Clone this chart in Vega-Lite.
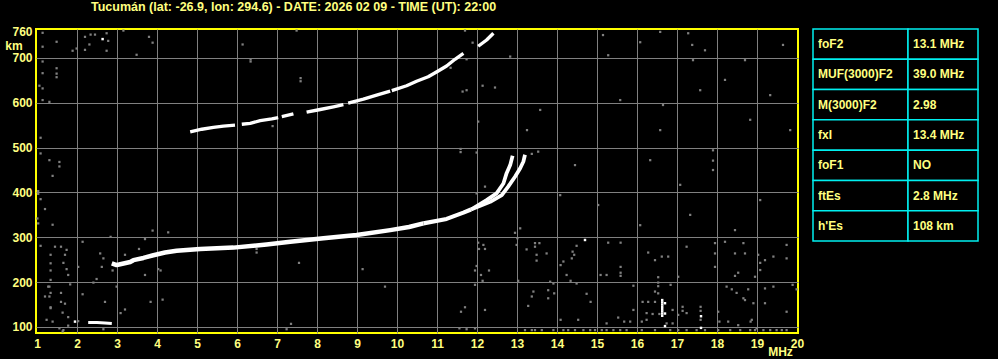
{
  "$schema": "https://vega.github.io/schema/vega-lite/v6.json",
  "background": "black",
  "padding": {"left": 3, "top": 1, "right": 30, "bottom": 8},
  "config": {"view": {"stroke": null}, "font": "Liberation Sans"},
  "title": {"text": "Tucumán (lat: -26.9, lon: 294.6) - DATE: 2026 02 09 - TIME (UT): 22:00", "color": "#ffff80", "fontSize": 12.5, "fontWeight": "bold", "font": "Liberation Sans", "anchor": "start", "frame": "group", "dx": 55, "offset": 10.5},
  "datasets": {
    "noise": [
      {"f":1.14,"h":756},{"f":1.14,"h":725},{"f":1.49,"h":736},{"f":1.89,"h":716},{"f":1.99,"h":721},{"f":2.2,"h":747},{"f":2.2,"h":718},{"f":2.31,"h":730},{"f":2.34,"h":752},{"f":2.45,"h":752},{"f":2.74,"h":755},{"f":2.78,"h":738},{"f":2.74,"h":716},{"f":3.16,"h":761},{"f":3.49,"h":707},{"f":3.8,"h":747},{"f":3.89,"h":734},{"f":6.14,"h":730},{"f":7.49,"h":761},{"f":11.7,"h":761},{"f":11.89,"h":734},{"f":12.83,"h":703},
      {"f":1.14,"h":692},{"f":1.14,"h":666},{"f":1.49,"h":677},{"f":1.49,"h":657},{"f":1.49,"h":665},{"f":1.06,"h":638},{"f":1.14,"h":632},{"f":1.14,"h":606},{"f":1.31,"h":602},{"f":1.09,"h":522},{"f":1.09,"h":487},{"f":1.31,"h":472},{"f":1.56,"h":458},{"f":1.56,"h":468},{"f":1.39,"h":437},{"f":1.03,"h":397},{"f":1.03,"h":403},{"f":1.09,"h":385},{"f":1.2,"h":363},{"f":1.01,"h":342},{"f":1.03,"h":331},{"f":1.39,"h":328},{"f":1.09,"h":281},{"f":1.45,"h":279},{"f":1.34,"h":261},{"f":1.34,"h":242},{"f":1.34,"h":226},{"f":1.34,"h":205},{"f":1.31,"h":190},{"f":1.2,"h":168},{"f":1.31,"h":168},{"f":1.34,"h":144},{"f":1.24,"h":116},{"f":1.39,"h":112},
      {"f":1.6,"h":279},{"f":1.74,"h":272},{"f":2.14,"h":290},{"f":1.7,"h":261},{"f":1.66,"h":243},{"f":1.74,"h":229},{"f":1.78,"h":216},{"f":2.03,"h":234},{"f":1.83,"h":195},{"f":1.28,"h":190},{"f":1.34,"h":176},{"f":1.6,"h":176},{"f":1.6,"h":156},{"f":1.7,"h":152},{"f":2.14,"h":173},{"f":1.34,"h":142},{"f":1.64,"h":132},{"f":1.78,"h":122},{"f":2.03,"h":113},{"f":2.66,"h":95},{"f":1.66,"h":93},{"f":2.58,"h":264},{"f":2.66,"h":253},{"f":2.89,"h":226},{"f":3.2,"h":261},{"f":3.55,"h":274},{"f":3.7,"h":216},{"f":4.03,"h":229},{"f":4.09,"h":226},{"f":2.49,"h":207},{"f":2.41,"h":199},{"f":2.7,"h":156},{"f":2.99,"h":190},{"f":3.09,"h":131},{"f":3.2,"h":139},{"f":3.84,"h":156},{"f":4.14,"h":161},
      {"f":1.78,"h":103},{"f":1.64,"h":90},{"f":1.56,"h":97},{"f":7.24,"h":95},{"f":7.35,"h":107},{"f":11.6,"h":134},{"f":11.7,"h":144},{"f":12.2,"h":138},{"f":11.56,"h":97},{"f":11.74,"h":95},{"f":11.95,"h":97},
      {"f":7.55,"h":243},{"f":9.14,"h":229},{"f":9.7,"h":190},{"f":12.03,"h":288},{"f":12.16,"h":283},{"f":12.05,"h":274},{"f":12.2,"h":274},{"f":11.99,"h":236},{"f":11.95,"h":226},{"f":12.1,"h":216},{"f":12.3,"h":226},{"f":12.14,"h":203},{"f":11.95,"h":194},{"f":6.49,"h":266},{"f":6.49,"h":274},
      {"f":6.34,"h":697},{"f":6.34,"h":692},{"f":7.59,"h":648},{"f":7.59,"h":655},{"f":6.89,"h":548},{"f":11.74,"h":697},{"f":11.34,"h":678},{"f":12.14,"h":638},{"f":12.45,"h":634},{"f":11.64,"h":625},{"f":11.74,"h":628},{"f":12.03,"h":558},{"f":11.59,"h":490},{"f":11.59,"h":497},{"f":11.99,"h":489},{"f":12.2,"h":413},{"f":13.37,"h":486},{"f":13.53,"h":491},{"f":12.95,"h":310},{"f":13.08,"h":320},{"f":13.01,"h":298},{"f":11.99,"h":398},
      {"f":3.89,"h":315},{"f":4.28,"h":311},{"f":2.84,"h":301},{"f":3.7,"h":296},{"f":2.62,"h":234},
      {"f":12.99,"h":283},{"f":13.45,"h":287},{"f":13.56,"h":287},{"f":13.45,"h":279},{"f":13.24,"h":273},{"f":13.49,"h":261},{"f":13.74,"h":264},{"f":13.49,"h":248},{"f":14.49,"h":281},{"f":14.39,"h":268},{"f":14.43,"h":261},{"f":14.16,"h":246},{"f":14.09,"h":238},{"f":14.37,"h":253},{"f":15.28,"h":288},{"f":15.59,"h":288},{"f":15.59,"h":234},{"f":15.59,"h":221},{"f":15.59,"h":214},{"f":15.09,"h":216},{"f":15.24,"h":216},{"f":14.24,"h":216},{"f":14.34,"h":203},{"f":14.49,"h":197},{"f":13.83,"h":201},{"f":13.91,"h":197},{"f":13.03,"h":203},
      {"f":16.28,"h":266},{"f":16.45,"h":249},{"f":16.62,"h":257},{"f":16.78,"h":257},{"f":16.53,"h":211},{"f":16.53,"h":199},{"f":16.53,"h":191},{"f":16.45,"h":179},{"f":16.53,"h":175},{"f":16.84,"h":194},{"f":17.03,"h":212},{"f":17.24,"h":279},{"f":17.95,"h":287},{"f":17.95,"h":264},{"f":17.95,"h":234},{"f":18.2,"h":290},{"f":18.66,"h":287},{"f":18.45,"h":264},{"f":18.7,"h":264},{"f":18.53,"h":221},{"f":18.45,"h":214},{"f":19.03,"h":261},{"f":19.08,"h":243},{"f":19.2,"h":249},{"f":19.41,"h":257},{"f":19.74,"h":283},{"f":19.74,"h":253},{"f":19.08,"h":227},{"f":18.95,"h":212},{"f":19.89,"h":194},{"f":19.99,"h":184},{"f":19.41,"h":190},{"f":19.2,"h":186},{"f":18.78,"h":184},{"f":18.49,"h":176},{"f":18.66,"h":164},{"f":18.7,"h":160},{"f":18.91,"h":153},{"f":19.2,"h":153},{"f":18.24,"h":190},{"f":18.37,"h":184},{"f":18.03,"h":134},{"f":19.74,"h":134},{"f":18.87,"h":116},{"f":18.28,"h":112},{"f":18.53,"h":104},{"f":18.99,"h":97},
      {"f":13.41,"h":179},{"f":13.37,"h":168},{"f":13.78,"h":164},{"f":13.78,"h":182},{"f":13.93,"h":175},{"f":14.74,"h":174},{"f":14.84,"h":156},{"f":13.28,"h":147},{"f":14.09,"h":116},{"f":14.53,"h":116},{"f":15.24,"h":108},{"f":15.53,"h":121},{"f":15.68,"h":112},{"f":15.83,"h":112},{"f":15.91,"h":138},{"f":15.91,"h":192},{"f":16.14,"h":156},{"f":16.28,"h":156},{"f":16.45,"h":156},{"f":16.24,"h":131},{"f":16.39,"h":129},{"f":16.12,"h":112},{"f":16.24,"h":116},{"f":16.56,"h":129},{"f":16.89,"h":138},{"f":17.03,"h":127},{"f":17.14,"h":145},{"f":17.14,"h":136},{"f":16.89,"h":108},{"f":16.74,"h":108},{"f":17.24,"h":131},{"f":17.59,"h":145},{"f":17.59,"h":136},{"f":17.59,"h":116},{"f":18.06,"h":112},{"f":18.84,"h":112},
      {"f":13.2,"h":93},{"f":13.37,"h":93},{"f":13.45,"h":93},{"f":13.62,"h":93},{"f":13.91,"h":93},{"f":14.16,"h":93},{"f":14.28,"h":93},{"f":14.45,"h":93},{"f":14.66,"h":93},{"f":14.83,"h":93},{"f":14.95,"h":93},{"f":15.12,"h":93},{"f":15.24,"h":93},{"f":15.41,"h":93},{"f":15.58,"h":93},{"f":15.74,"h":93},{"f":16.12,"h":93},{"f":16.45,"h":93},{"f":16.83,"h":93},{"f":17.03,"h":93},{"f":17.24,"h":93},{"f":17.49,"h":93},{"f":17.7,"h":93},{"f":18.03,"h":93},{"f":18.33,"h":93},{"f":18.58,"h":93},{"f":18.83,"h":93},{"f":18.95,"h":93},{"f":19.16,"h":93},{"f":19.33,"h":93},{"f":19.49,"h":93},{"f":19.62,"h":93},{"f":19.74,"h":93},
      {"f":15.15,"h":751},{"f":15.28,"h":706},{"f":16.08,"h":735},{"f":16.58,"h":758},{"f":17.28,"h":755},{"f":17.38,"h":729},{"f":17.4,"h":695},{"f":17.58,"h":628},{"f":17.7,"h":717},{"f":17.9,"h":494},{"f":17.9,"h":471},{"f":17.9,"h":450},{"f":18.7,"h":695},{"f":19.33,"h":617},{"f":19.65,"h":729},{"f":19.83,"h":539},{"f":18.83,"h":562},{"f":16.58,"h":539},{"f":16.65,"h":595},{"f":16.08,"h":327},{"f":15.03,"h":372},{"f":14.45,"h":461},{"f":14.08,"h":394},{"f":13.25,"h":539},{"f":13.58,"h":584},{"f":15.58,"h":606},{"f":18.2,"h":651},{"f":19.08,"h":383},{"f":18.45,"h":316},{"f":17.08,"h":417},{"f":17.33,"h":350},{"f":16.33,"h":472}
    ],
    "bright": [
      {"f":16.63,"h":125},{"f":16.63,"h":130},{"f":16.63,"h":135},{"f":16.63,"h":140},{"f":16.63,"h":145},{"f":16.63,"h":150},{"f":16.63,"h":155},{"f":16.63,"h":160},{"f":16.7,"h":153},{"f":16.7,"h":130},{"f":16.7,"h":102},{"f":17.6,"h":124},{"f":17.6,"h":98},{"f":1.95,"h":112},{"f":14.7,"h":294},{"f":2.64,"h":742}
    ],
    "traces": [
      {"f":2.87,"h":242,"seg":"F1","kind":"F"},{"f":2.99,"h":238,"seg":"F1","kind":"F"},{"f":3.08,"h":240,"seg":"F1","kind":"F"},{"f":3.33,"h":245,"seg":"F1","kind":"F"},{"f":3.41,"h":249,"seg":"F1","kind":"F"},{"f":3.66,"h":254,"seg":"F1","kind":"F"},{"f":3.91,"h":260,"seg":"F1","kind":"F"},{"f":4.2,"h":266,"seg":"F1","kind":"F"},{"f":4.49,"h":270,"seg":"F1","kind":"F"},{"f":5.08,"h":274,"seg":"F1","kind":"F"},{"f":5.91,"h":277,"seg":"F1","kind":"F"},{"f":6.74,"h":284,"seg":"F1","kind":"F"},{"f":7.33,"h":290,"seg":"F1","kind":"F"},{"f":8.16,"h":298,"seg":"F1","kind":"F"},{"f":8.99,"h":305,"seg":"F1","kind":"F"},{"f":9.83,"h":316,"seg":"F1","kind":"F"},{"f":10.3,"h":323,"seg":"F1","kind":"F"},{"f":10.66,"h":331,"seg":"F1","kind":"F"},
      {"f":10.66,"h":331,"seg":"F2","kind":"Fn"},{"f":11.24,"h":341,"seg":"F2","kind":"Fn"},{"f":11.66,"h":355,"seg":"F2","kind":"Fn"},{"f":11.85,"h":362,"seg":"F2","kind":"Fn"},
      {"f":11.85,"h":362,"seg":"A","kind":"branch"},{"f":12.24,"h":383,"seg":"A","kind":"branch"},{"f":12.49,"h":398,"seg":"A","kind":"branch"},{"f":12.66,"h":420,"seg":"A","kind":"branch"},{"f":12.74,"h":443,"seg":"A","kind":"branch"},{"f":12.83,"h":461,"seg":"A","kind":"branch"},{"f":12.89,"h":482,"seg":"A","kind":"branch"},
      {"f":11.85,"h":362,"seg":"B","kind":"branch"},{"f":12.33,"h":379,"seg":"B","kind":"branch"},{"f":12.62,"h":394,"seg":"B","kind":"branch"},{"f":12.78,"h":413,"seg":"B","kind":"branch"},{"f":12.95,"h":435,"seg":"B","kind":"branch"},{"f":13.08,"h":454,"seg":"B","kind":"branch"},{"f":13.16,"h":469,"seg":"B","kind":"branch"},{"f":13.2,"h":484,"seg":"B","kind":"branch"},
      {"f":4.83,"h":535,"seg":"u1","kind":"hop"},{"f":5.12,"h":541,"seg":"u1","kind":"hop"},{"f":5.41,"h":545,"seg":"u1","kind":"hop"},{"f":5.66,"h":548,"seg":"u1","kind":"hop"},{"f":5.95,"h":550,"seg":"u1","kind":"hop"},
      {"f":6.12,"h":552,"seg":"u2","kind":"hop"},{"f":6.33,"h":554,"seg":"u2","kind":"hop"},{"f":6.58,"h":560,"seg":"u2","kind":"hop"},{"f":6.87,"h":564,"seg":"u2","kind":"hop"},{"f":7.03,"h":567,"seg":"u2","kind":"hop"},
      {"f":7.12,"h":569,"seg":"u3","kind":"hop"},{"f":7.41,"h":575,"seg":"u3","kind":"hop"},
      {"f":7.74,"h":579,"seg":"u4","kind":"hop"},{"f":8.08,"h":585,"seg":"u4","kind":"hop"},{"f":8.41,"h":591,"seg":"u4","kind":"hop"},{"f":8.66,"h":596,"seg":"u4","kind":"hop"},
      {"f":8.78,"h":599,"seg":"u5","kind":"hop"},{"f":9.16,"h":608,"seg":"u5","kind":"hop"},{"f":9.49,"h":617,"seg":"u5","kind":"hop"},{"f":9.83,"h":626,"seg":"u5","kind":"hop"},
      {"f":9.87,"h":627,"seg":"u6","kind":"hop"},{"f":10.24,"h":638,"seg":"u6","kind":"hop"},{"f":10.49,"h":648,"seg":"u6","kind":"hop"},{"f":10.78,"h":658,"seg":"u6","kind":"hop"},{"f":11.03,"h":671,"seg":"u6","kind":"hop"},{"f":11.24,"h":682,"seg":"u6","kind":"hop"},{"f":11.45,"h":697,"seg":"u6","kind":"hop"},{"f":11.66,"h":710,"seg":"u6","kind":"hop"},
      {"f":12.03,"h":726,"seg":"u7","kind":"hop"},{"f":12.24,"h":740,"seg":"u7","kind":"hop"},{"f":12.41,"h":755,"seg":"u7","kind":"hop"},
      {"f":2.28,"h":110,"seg":"Es","kind":"Es"},{"f":2.5,"h":110,"seg":"Es","kind":"Es"},{"f":2.7,"h":109,"seg":"Es","kind":"Es"},{"f":2.87,"h":108,"seg":"Es","kind":"Es"}
    ],
    "table": [
      {"row":1,"col":"name","text":"foF2"},{"row":1,"col":"value","text":"13.1 MHz"},
      {"row":2,"col":"name","text":"MUF(3000)F2"},{"row":2,"col":"value","text":"39.0 MHz"},
      {"row":3,"col":"name","text":"M(3000)F2"},{"row":3,"col":"value","text":"2.98"},
      {"row":4,"col":"name","text":"fxI"},{"row":4,"col":"value","text":"13.4 MHz"},
      {"row":5,"col":"name","text":"foF1"},{"row":5,"col":"value","text":"NO"},
      {"row":6,"col":"name","text":"ftEs"},{"row":6,"col":"value","text":"2.8 MHz"},
      {"row":7,"col":"name","text":"h'Es"},{"row":7,"col":"value","text":"108 km"}
    ]
  },
  "spacing": 15,
  "bounds": "flush",
  "hconcat": [
    {
      "width": 762,
      "height": 304,
      "view": {"stroke": "#ffff00", "strokeWidth": 2},
      "layer": [
        {
          "data": {"name": "noise"},
          "mark": {"type": "square", "size": 5, "color": "#808080", "opacity": 1},
          "encoding": {
            "x": {"field": "f", "type": "quantitative", "scale": {"domain": [0.975, 20.025], "nice": false, "zero": false},
              "axis": {"values": [1,2,3,4,5,6,7,8,9,10,11,12,13,14,15,16,17,18,19,20], "format": "d", "title": "MHz", "titleX": 744, "titleY": 18, "titleAlign": "center", "titleBaseline": "middle", "titleColor": "#ffff80", "titleFontSize": 12, "titleFontWeight": "bold", "labelColor": "#ffff80", "labelFontSize": 12, "labelFontWeight": "bold", "labelPadding": 5, "labelFlush": false, "labelOverlap": false, "ticks": false, "domain": false, "grid": true, "gridWidth": 1, "gridColor": {"condition": {"test": "datum.value == 1 || datum.value == 20", "value": "transparent"}, "value": "#808080"}}},
            "y": {"field": "h", "type": "quantitative", "scale": {"domain": [86.6, 764.5], "nice": false, "zero": false},
              "axis": {"values": [100,200,300,400,500,600,700,760], "format": "d", "title": "km", "titleAngle": 0, "titleX": -22.5, "titleY": 16, "titleAlign": "center", "titleBaseline": "middle", "titleColor": "#ffff80", "titleFontSize": 12, "titleFontWeight": "bold", "labelColor": "#ffff80", "labelFontSize": 12, "labelFontWeight": "bold", "labelPadding": 4, "labelOverlap": false, "labelFlush": false, "ticks": false, "domain": false, "grid": true, "gridWidth": 1, "gridColor": {"condition": {"test": "datum.value == 760", "value": "transparent"}, "value": "#808080"}}}
          }
        },
        {
          "data": {"name": "bright"},
          "mark": {"type": "square", "size": 6, "color": "white", "opacity": 1},
          "encoding": {"x": {"field": "f", "type": "quantitative"}, "y": {"field": "h", "type": "quantitative"}}
        },
        {
          "data": {"name": "traces"},
          "mark": {"type": "line", "color": "white", "strokeCap": "butt", "strokeJoin": "round"},
          "encoding": {
            "x": {"field": "f", "type": "quantitative"},
            "y": {"field": "h", "type": "quantitative"},
            "detail": {"field": "seg", "type": "nominal"},
            "strokeWidth": {"field": "kind", "type": "nominal", "scale": {"domain": ["F", "Fn", "branch", "hop", "Es"], "range": [4.5, 3, 1.8, 2.2, 3]}, "legend": null}
          }
        }
      ]
    },
    {
      "spacing": 0,
      "bounds": "flush",
      "hconcat": [
        {
          "width": 95,
          "height": 212,
          "data": {"name": "table"},
          "transform": [{"filter": "datum.col == 'name'"}],
          "encoding": {
            "y": {"field": "row", "type": "ordinal", "axis": null, "scale": {"paddingInner": 0, "paddingOuter": 0}},
            "x": {"field": "col", "type": "nominal", "axis": null, "scale": {"paddingInner": 0, "paddingOuter": 0}}
          },
          "layer": [
            {"mark": {"type": "rect", "fill": "black", "stroke": "#00f0f0", "strokeWidth": 1.5}},
            {"mark": {"type": "text", "align": "left", "baseline": "middle", "dx": 5, "color": "#ffff80", "fontSize": 12, "fontWeight": "bold", "font": "Liberation Sans"},
             "encoding": {"x": {"field": "col", "type": "nominal", "bandPosition": 0}, "text": {"field": "text"}}}
          ]
        },
        {
          "width": 70,
          "height": 212,
          "data": {"name": "table"},
          "transform": [{"filter": "datum.col == 'value'"}],
          "encoding": {
            "y": {"field": "row", "type": "ordinal", "axis": null, "scale": {"paddingInner": 0, "paddingOuter": 0}},
            "x": {"field": "col", "type": "nominal", "axis": null, "scale": {"paddingInner": 0, "paddingOuter": 0}}
          },
          "layer": [
            {"mark": {"type": "rect", "fill": "black", "stroke": "#00f0f0", "strokeWidth": 1.5}},
            {"mark": {"type": "text", "align": "left", "baseline": "middle", "dx": 5, "color": "#ffff80", "fontSize": 12, "fontWeight": "bold", "font": "Liberation Sans"},
             "encoding": {"x": {"field": "col", "type": "nominal", "bandPosition": 0}, "text": {"field": "text"}}}
          ]
        }
      ]
    }
  ]
}
